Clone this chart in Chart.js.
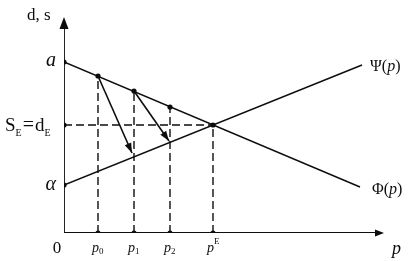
<!DOCTYPE html>
<html>
<head>
<meta charset="utf-8">
<script src="https://cdn.jsdelivr.net/npm/chart.js@4"></script>
<style>
  body { margin: 0; background: #fff; }
</style>
</head>
<body>
<canvas id="chart" width="409" height="261"></canvas>
<script>
// -------------------------------
// Data
// -------------------------------
const xMax = 32;
const yMax = 21.6;

const aValue = 17.1;      // intercept of demand line
const alphaValue = 4.8;   // intercept of supply line

const phiX = [0, 29.6];
const phiY = [17.1, 4.6];
const psiX = [0, 29.8];
const psiY = [4.8, 16.8];

const stepLabels = ["0", "1", "2"];
const stepP = [3.4, 7.0, 10.6];
const stepD = [15.7, 14.2, 12.6];

const arrowEndP = [6.8, 10.5];
const arrowEndS = [8.0, 9.2];

const eqP = 14.9;
const eqD = 10.8;

// -------------------------------
// Datasets
// -------------------------------
const ink = "#0d0d0d";

function seg(points, opts) {
  return Object.assign({
    data: points,
    showLine: true,
    borderColor: ink,
    borderWidth: 1.4,
    pointRadius: 0,
    fill: false,
  }, opts || {});
}

const datasets = [];

// axes
datasets.push(seg([{ x: 0, y: 0 }, { x: xMax - 0.5, y: 0 }], { borderWidth: 1.8 }));
datasets.push(seg([{ x: 0, y: 0 }, { x: 0, y: yMax - 0.8 }], { borderWidth: 1.8 }));

// Phi and Psi
datasets.push(seg(phiX.map((x, i) => ({ x: x, y: phiY[i] }))));
datasets.push(seg(psiX.map((x, i) => ({ x: x, y: psiY[i] }))));

// dashed guides
const dash = [8, 4];
datasets.push(seg([{ x: 0, y: eqD }, { x: eqP, y: eqD }], { borderDash: dash }));
stepP.forEach((p, i) => {
  datasets.push(seg([{ x: p, y: 0 }, { x: p, y: stepD[i] }], { borderDash: dash }));
});
datasets.push(seg([{ x: eqP, y: 0 }, { x: eqP, y: eqD }], { borderDash: dash }));

// arrows
arrowEndP.forEach((p, i) => {
  datasets.push(seg([{ x: stepP[i], y: stepD[i] }, { x: p, y: arrowEndS[i] }], { borderWidth: 1.6 }));
});

// dots
const dots = [
  { x: 0, y: aValue }, { x: 0, y: eqD }, { x: 0, y: alphaValue },
  { x: eqP, y: eqD }, { x: eqP, y: 0 },
];
stepP.forEach((p, i) => {
  dots.push({ x: p, y: stepD[i] });
  dots.push({ x: p, y: 0 });
});
datasets.push({
  data: dots,
  showLine: false,
  pointRadius: 2.6,
  pointBackgroundColor: ink,
  pointBorderWidth: 0,
});

// -------------------------------
// Arrowheads and text
// -------------------------------
function arrowHead(ctx, x1, y1, x2, y2, len, half) {
  const ang = Math.atan2(y2 - y1, x2 - x1);
  ctx.save();
  ctx.translate(x2, y2);
  ctx.rotate(ang);
  ctx.beginPath();
  ctx.moveTo(0, 0);
  ctx.lineTo(-len, -half);
  ctx.lineTo(-len, half);
  ctx.closePath();
  ctx.fillStyle = ink;
  ctx.fill();
  ctx.restore();
}

function parts(ctx, x, y, list) {
  list.forEach(p => {
    ctx.font = p.font;
    ctx.fillText(p.t, x, y + (p.dy || 0));
    x += ctx.measureText(p.t).width + (p.gap || 0);
  });
}

const serif = '"Liberation Serif", "DejaVu Serif", serif';

const overlay = {
  id: "overlay",
  afterDatasetsDraw(chart) {
    const ctx = chart.ctx;
    const xs = chart.scales.x;
    const ys = chart.scales.y;
    const X = v => xs.getPixelForValue(v);
    const Y = v => ys.getPixelForValue(v);

    // axis arrows
    arrowHead(ctx, X(0), Y(0), X(0), Y(yMax), 12, 4.5);
    arrowHead(ctx, X(0), Y(0), X(xMax), Y(0), 9, 3.5);

    // step arrows
    arrowEndP.forEach((p, i) => {
      arrowHead(ctx, X(stepP[i]), Y(stepD[i]), X(p), Y(arrowEndS[i]), 10, 3.5);
    });

    ctx.save();
    ctx.fillStyle = ink;
    ctx.textBaseline = "alphabetic";

    // y axis title
    ctx.font = "17px " + serif;
    ctx.textAlign = "left";
    ctx.fillText("d, s", X(0) - 37, Y(yMax) + 3);

    // a and alpha
    ctx.font = "italic 20px " + serif;
    ctx.textAlign = "right";
    ctx.fillText("a", X(0) - 8, Y(aValue) + 4);
    ctx.fillText("α", X(0) - 8, Y(alphaValue) + 5);

    // S_E = d_E
    ctx.textAlign = "left";
    parts(ctx, 5, Y(eqD) + 6, [
      { t: "S", font: "19px " + serif },
      { t: "E", font: "10px " + serif, dy: 5, gap: 1 },
      { t: "=", font: "20px " + serif, gap: 1 },
      { t: "d", font: "19px " + serif },
      { t: "E", font: "10px " + serif, dy: 5 },
    ]);

    // origin
    ctx.font = "17px " + serif;
    ctx.textAlign = "center";
    ctx.fillText("0", X(0) - 7, Y(0) + 20);

    // p labels
    ctx.textAlign = "left";
    stepP.forEach((p, i) => {
      parts(ctx, X(p) - 6, Y(0) + 19, [
        { t: "p", font: "italic 14px " + serif },
        { t: stepLabels[i], font: "9px " + serif, dy: 2 },
      ]);
    });
    parts(ctx, X(eqP) - 6, Y(0) + 19, [
      { t: "p", font: "italic 14px " + serif },
      { t: "E", font: "9px " + serif, dy: -8 },
    ]);

    // axis name p
    ctx.font = "italic 18px " + serif;
    ctx.fillText("p", X(xMax) + 8, Y(0) + 21);

    // line names
    parts(ctx, X(psiX[1]) + 8, Y(psiY[1]) + 6, [
      { t: "Ψ(", font: "16px " + serif },
      { t: "p", font: "italic 16px " + serif },
      { t: ")", font: "16px " + serif },
    ]);
    parts(ctx, X(phiX[1]) + 12, Y(phiY[1]) + 7, [
      { t: "Φ(", font: "16px " + serif },
      { t: "p", font: "italic 16px " + serif },
      { t: ")", font: "16px " + serif },
    ]);

    ctx.restore();
  },
};

// -------------------------------
// Chart
// -------------------------------
new Chart(document.getElementById("chart").getContext("2d"), {
  type: "scatter",
  data: { datasets: datasets },
  options: {
    responsive: false,
    animation: false,
    events: [],
    layout: { padding: { left: 64, right: 25, top: 17, bottom: 28 } },
    plugins: { legend: { display: false }, tooltip: { enabled: false } },
    scales: {
      x: { type: "linear", min: 0, max: xMax, display: false },
      y: { type: "linear", min: 0, max: yMax, display: false },
    },
  },
  plugins: [overlay],
});
</script>
</body>
</html>
